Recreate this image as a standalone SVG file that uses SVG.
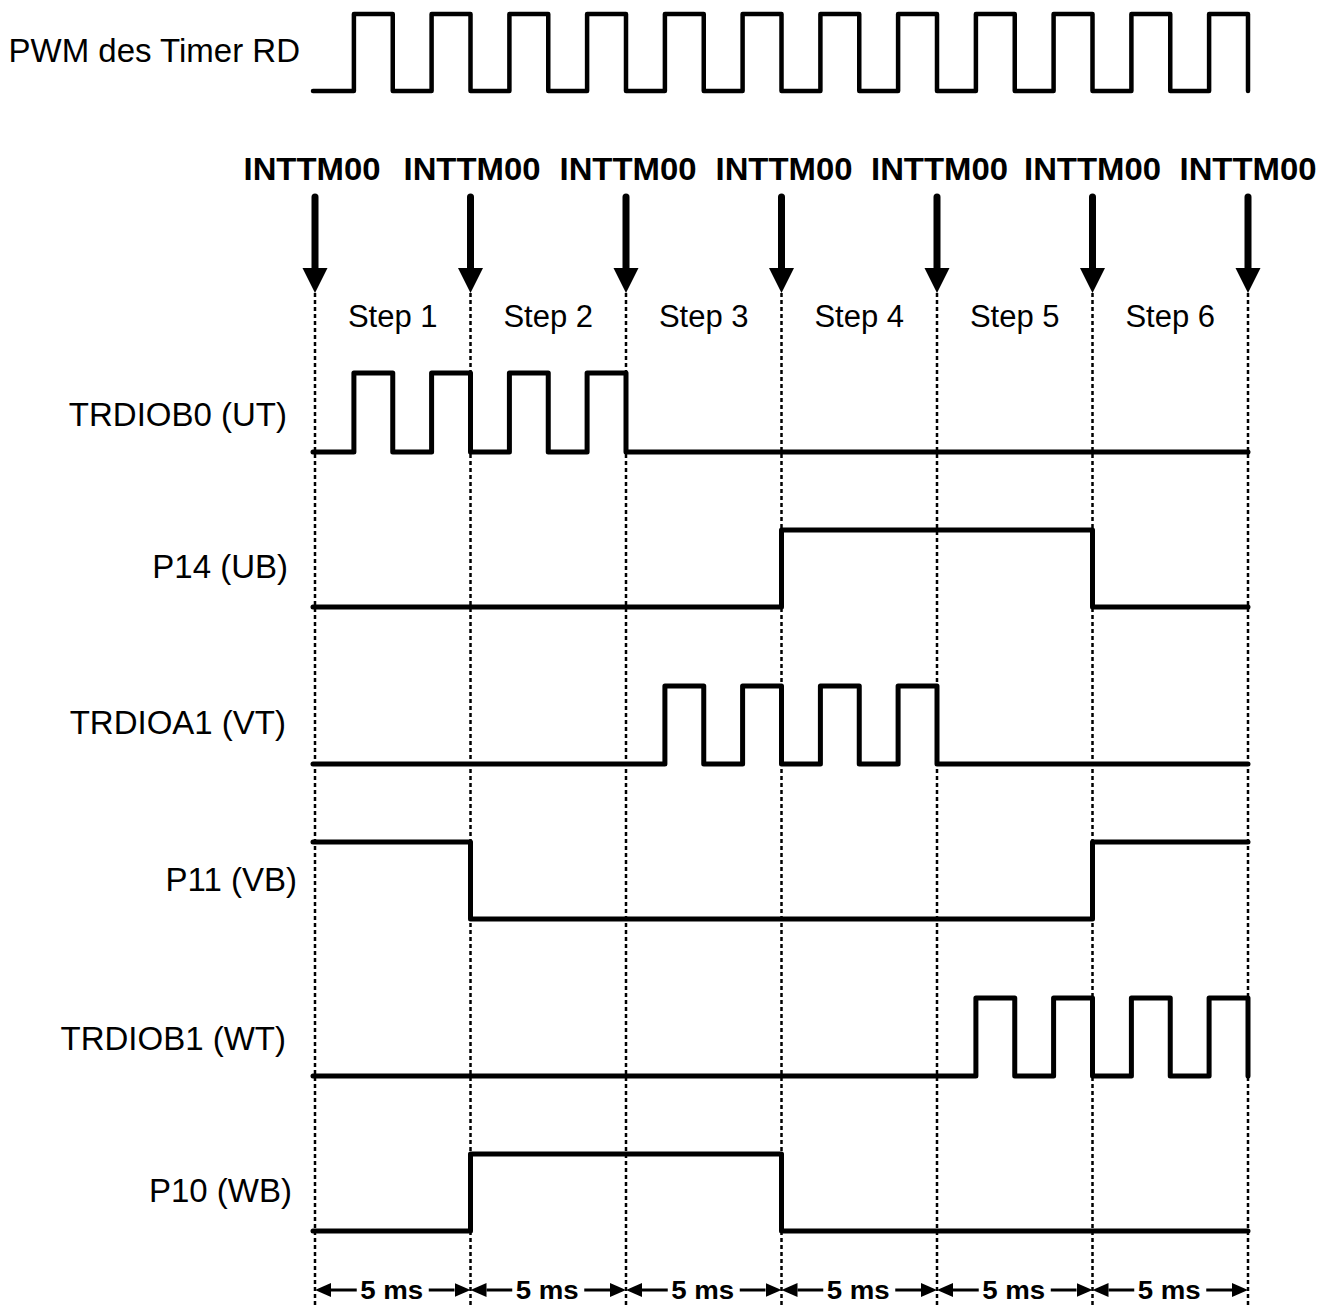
<svg xmlns="http://www.w3.org/2000/svg" width="1337" height="1306" viewBox="0 0 1337 1306">
<style>
  .sig { fill: none; stroke: #000; stroke-width: 5; stroke-linejoin: round; stroke-linecap: round; }
  .pwm { fill: none; stroke: #000; stroke-width: 4.5; stroke-linejoin: round; stroke-linecap: round; }
  .grid { stroke: #000; stroke-width: 2.5; stroke-dasharray: 4 3; }
  .down { stroke: #000; stroke-width: 7; stroke-linecap: round; marker-end: url(#headDown); }
  .dim { stroke: #000; stroke-width: 3; marker-end: url(#headDim); }
  .lbl { font-family: "Liberation Sans", Arial, sans-serif; font-size: 33px; fill: #000; text-anchor: end; }
  .step { font-family: "Liberation Sans", Arial, sans-serif; font-size: 31px; fill: #000; text-anchor: middle; }
  .irq { font-family: "Liberation Sans", Arial, sans-serif; font-size: 31px; font-weight: bold; fill: #000; text-anchor: middle; }
  .ms { font-family: "Liberation Sans", Arial, sans-serif; font-size: 26px; font-weight: bold; fill: #000; text-anchor: middle; }
</style>
<defs>
  <marker id="headDown" viewBox="0 -13 26 26" refX="0" refY="0" markerWidth="26" markerHeight="26" markerUnits="userSpaceOnUse" orient="auto">
    <path d="M0,-12.5 L25,0 L0,12.5 Z" fill="#000"/>
  </marker>
  <marker id="headDim" viewBox="0 -8 17 16" refX="0" refY="0" markerWidth="17" markerHeight="16" markerUnits="userSpaceOnUse" orient="auto">
    <path d="M0,-7 L16,0 L0,7 Z" fill="#000"/>
  </marker>
</defs>
<rect width="1337" height="1306" fill="#fff"/>

<g id="grid-lines">
  <line class="grid" x1="315" y1="293" x2="315" y2="1306"/>
  <line class="grid" x1="470.5" y1="293" x2="470.5" y2="1306"/>
  <line class="grid" x1="626" y1="293" x2="626" y2="1306"/>
  <line class="grid" x1="781.5" y1="293" x2="781.5" y2="1306"/>
  <line class="grid" x1="937" y1="293" x2="937" y2="1306"/>
  <line class="grid" x1="1092.5" y1="293" x2="1092.5" y2="1306"/>
  <line class="grid" x1="1248" y1="293" x2="1248" y2="1306"/>
</g>

<g id="pwm">
  <text class="lbl" x="300" y="62" style="font-size:33px">PWM des Timer RD</text>
  <path class="pwm" d="M313,91 H353.9 V14 H392.75 V91 H431.6 V14 H470.5 V91 H509.4 V14 H548.25 V91 H587.1 V14 H626 V91 H664.9 V14 H703.75 V91 H742.6 V14 H781.5 V91 H820.4 V14 H859.25 V91 H898.1 V14 H937 V91 H975.9 V14 H1014.75 V91 H1053.6 V14 H1092.5 V91 H1131.4 V14 H1170.25 V91 H1209.1 V14 H1248 V91"/>
</g>

<g id="interrupts">
  <text class="irq" x="312" y="180" textLength="137" lengthAdjust="spacingAndGlyphs">INTTM00</text>
  <text class="irq" x="472" y="180" textLength="137" lengthAdjust="spacingAndGlyphs">INTTM00</text>
  <text class="irq" x="628" y="180" textLength="137" lengthAdjust="spacingAndGlyphs">INTTM00</text>
  <text class="irq" x="784" y="180" textLength="137" lengthAdjust="spacingAndGlyphs">INTTM00</text>
  <text class="irq" x="939.5" y="180" textLength="137" lengthAdjust="spacingAndGlyphs">INTTM00</text>
  <text class="irq" x="1092.5" y="180" textLength="137" lengthAdjust="spacingAndGlyphs">INTTM00</text>
  <text class="irq" x="1248" y="180" textLength="137" lengthAdjust="spacingAndGlyphs">INTTM00</text>
</g>

<g id="steps">
  <text class="step" x="392.75" y="327">Step 1</text>
  <text class="step" x="548.25" y="327">Step 2</text>
  <text class="step" x="703.75" y="327">Step 3</text>
  <text class="step" x="859.25" y="327">Step 4</text>
  <text class="step" x="1014.75" y="327">Step 5</text>
  <text class="step" x="1170.25" y="327">Step 6</text>
</g>

<g id="TRDIOB0">
  <text class="lbl" x="287" y="426">TRDIOB0 (UT)</text>
  <path class="sig" d="M313,452 H353.9 V373 H392.75 V452 H431.6 V373 H470.5 V452 H509.4 V373 H548.25 V452 H587.1 V373 H626 V452 H1248"/>
</g>
<g id="P14">
  <text class="lbl" x="288" y="578">P14 (UB)</text>
  <path class="sig" d="M313,607 H781.5 V530 H1092.5 V607 H1248"/>
</g>
<g id="TRDIOA1">
  <text class="lbl" x="286" y="734">TRDIOA1 (VT)</text>
  <path class="sig" d="M313,764 H664.9 V686 H703.75 V764 H742.6 V686 H781.5 V764 H820.4 V686 H859.25 V764 H898.1 V686 H937 V764 H1248"/>
</g>
<g id="P11">
  <text class="lbl" x="297" y="891">P11 (VB)</text>
  <path class="sig" d="M313,842 H470.5 V919 H1092.5 V842 H1248"/>
</g>
<g id="TRDIOB1">
  <text class="lbl" x="286" y="1050">TRDIOB1 (WT)</text>
  <path class="sig" d="M313,1076 H975.9 V998 H1014.75 V1076 H1053.6 V998 H1092.5 V1076 H1131.4 V998 H1170.25 V1076 H1209.1 V998 H1248 V1076"/>
</g>
<g id="P10">
  <text class="lbl" x="292" y="1202">P10 (WB)</text>
  <path class="sig" d="M313,1231 H470.5 V1154 H781.5 V1231 H1248"/>
</g>

<g id="connectors">
  <line class="down" x1="315" y1="197" x2="315" y2="268"/>
  <line class="down" x1="470.5" y1="197" x2="470.5" y2="268"/>
  <line class="down" x1="626" y1="197" x2="626" y2="268"/>
  <line class="down" x1="781.5" y1="197" x2="781.5" y2="268"/>
  <line class="down" x1="937" y1="197" x2="937" y2="268"/>
  <line class="down" x1="1092.5" y1="197" x2="1092.5" y2="268"/>
  <line class="down" x1="1248" y1="197" x2="1248" y2="268"/>

  <line class="dim" x1="356.75" y1="1290" x2="331" y2="1290"/>
  <line class="dim" x1="428.75" y1="1290" x2="454.5" y2="1290"/>
  <line class="dim" x1="512.25" y1="1290" x2="486.5" y2="1290"/>
  <line class="dim" x1="584.25" y1="1290" x2="610" y2="1290"/>
  <line class="dim" x1="667.75" y1="1290" x2="642" y2="1290"/>
  <line class="dim" x1="739.75" y1="1290" x2="765.5" y2="1290"/>
  <line class="dim" x1="823.25" y1="1290" x2="797.5" y2="1290"/>
  <line class="dim" x1="895.25" y1="1290" x2="921" y2="1290"/>
  <line class="dim" x1="978.75" y1="1290" x2="953" y2="1290"/>
  <line class="dim" x1="1050.75" y1="1290" x2="1076.5" y2="1290"/>
  <line class="dim" x1="1134.25" y1="1290" x2="1108.5" y2="1290"/>
  <line class="dim" x1="1206.25" y1="1290" x2="1232" y2="1290"/>
</g>

<g id="durations">
  <text class="ms" x="391.75" y="1299" textLength="63" lengthAdjust="spacingAndGlyphs">5 ms</text>
  <text class="ms" x="547.25" y="1299" textLength="63" lengthAdjust="spacingAndGlyphs">5 ms</text>
  <text class="ms" x="702.75" y="1299" textLength="63" lengthAdjust="spacingAndGlyphs">5 ms</text>
  <text class="ms" x="858.25" y="1299" textLength="63" lengthAdjust="spacingAndGlyphs">5 ms</text>
  <text class="ms" x="1013.75" y="1299" textLength="63" lengthAdjust="spacingAndGlyphs">5 ms</text>
  <text class="ms" x="1169.25" y="1299" textLength="63" lengthAdjust="spacingAndGlyphs">5 ms</text>
</g>
</svg>
